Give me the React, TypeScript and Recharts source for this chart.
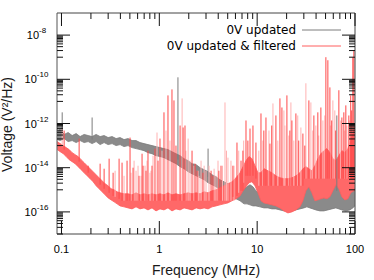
import React from "react";
import { ComposedChart, Area, Line, XAxis, YAxis, ReferenceLine } from "recharts";

const W = 374;
const H = 280;
const PLOT_L = 57;
const PLOT_R = 355;
const PLOT_T = 13;
const PLOT_B = 234;

const SANS = "'Liberation Sans', Arial, sans-serif";
const KEY_FONT = "'DejaVu Sans', Verdana, sans-serif";

const GREY = "#7c7c7c";
const GREY_FILL = "#8a8a8a";
const RED = "#ff5e5e";
const RED_FILL = "#ff6868";
const RED_SPIKE = "#ff4a4a";
const PINK = "#ffb2b2";

// axis ticks
const xMajor = [0.1, 1, 10, 100];
const xMinorMult = [2, 3, 4, 5, 6, 7, 8, 9];
const yMajor = [1e-16, 1e-14, 1e-12, 1e-10, 1e-8];
const yMinorDecade = [1e-17, 1e-15, 1e-13, 1e-11, 1e-9];
const yMinorMult = [1, 2, 3, 4, 5, 6, 7, 8, 9];

// "0V updated" noise band (MHz, V²/Hz)
const greyFreq = [
  0.0904, 0.097, 0.1065, 0.117, 0.1286, 0.1412, 0.155, 0.1705, 0.1873, 0.2057,
  0.226, 0.2483, 0.2728, 0.2997, 0.3292, 0.3616, 0.397, 0.436, 0.479, 0.526,
  0.578, 0.635, 0.698, 0.766, 0.842, 0.925, 1.016, 1.116, 1.226, 1.347,
  1.48, 1.63, 1.79, 1.97, 2.16, 2.38, 2.61, 2.87, 3.15, 3.46,
  3.8, 4.17, 4.58, 5.03, 5.53, 6.08, 6.68, 7.34, 7.87, 8.45,
  9.06, 9.72, 10.68, 11.73, 12.89, 14.16, 15.55, 17.09, 18.77, 20.62,
  22.66, 24.89, 27.34, 30.04, 32.23, 34.58, 37.1, 39.8, 43.8, 48.1,
  52.8, 58.0, 63.7, 68.4, 73.4, 80.6, 88.6, 95.0, 99.6,
];
const greyHigh = [
  4.3e-13, 5.3e-13, 3.2e-13, 3.9e-13, 2.85e-13, 3.5e-13, 2.56e-13, 3.2e-13, 2.85e-13, 2.56e-13,
  3.2e-13, 2.56e-13, 2.85e-13, 2.31e-13, 2.56e-13, 2.08e-13, 2.31e-13, 1.87e-13, 2.08e-13, 1.69e-13,
  1.69e-13, 1.37e-13, 1.23e-13, 1.11e-13, 1.0e-13, 9.0e-14, 8.1e-14, 7.3e-14, 6.6e-14, 5.3e-14,
  4.3e-14, 3.5e-14, 2.56e-14, 2.08e-14, 1.52e-14, 1.37e-14, 1.0e-14, 8.1e-15, 6.6e-15, 4.8e-15,
  3.9e-15, 2.85e-15, 2.31e-15, 1.87e-15, 1.52e-15, 1.23e-15, 1.0e-15, 1.11e-15, 1.37e-15, 1.69e-15,
  1.37e-15, 9.0e-16, 6.6e-16, 5.3e-16, 4.8e-16, 4.3e-16, 4.3e-16, 3.9e-16, 3.9e-16, 3.5e-16,
  3.9e-16, 4.3e-16, 5.3e-16, 9.0e-16, 1.52e-15, 1.23e-15, 7.3e-16, 5.3e-16, 4.8e-16, 5.3e-16,
  7.3e-16, 1.23e-15, 2.31e-15, 1.69e-15, 9.0e-16, 5.3e-16, 6.6e-16, 1.0e-15, 1.23e-15,
];
const greyLow = [
  1.87e-13, 1.69e-13, 2.08e-13, 1.52e-13, 1.69e-13, 1.37e-13, 1.69e-13, 1.37e-13, 1.52e-13, 1.23e-13,
  1.52e-13, 1.11e-13, 1.37e-13, 1.11e-13, 1.23e-13, 1.0e-13, 1.11e-13, 9.0e-14, 1.0e-13, 8.1e-14,
  7.3e-14, 6.6e-14, 5.9e-14, 4.8e-14, 4.3e-14, 3.5e-14, 3.2e-14, 2.85e-14, 2.31e-14, 1.87e-14,
  1.52e-14, 1.11e-14, 9.0e-15, 6.6e-15, 5.3e-15, 4.3e-15, 3.5e-15, 2.85e-15, 2.08e-15, 1.69e-15,
  1.37e-15, 1.0e-15, 8.1e-16, 5.9e-16, 4.8e-16, 3.9e-16, 3.2e-16, 2.31e-16, 2.31e-16, 2.08e-16,
  1.87e-16, 1.87e-16, 1.69e-16, 1.52e-16, 1.52e-16, 1.37e-16, 1.37e-16, 1.23e-16, 1.11e-16, 1.11e-16,
  1.11e-16, 1.23e-16, 1.37e-16, 1.52e-16, 1.69e-16, 1.52e-16, 1.37e-16, 1.23e-16, 1.11e-16, 1.11e-16,
  1.23e-16, 1.37e-16, 1.52e-16, 1.37e-16, 1.23e-16, 1.11e-16, 1.23e-16, 1.52e-16, 1.87e-16,
];
const greySpikeFreq = [0.1017, 0.2057, 1.55, 3.15, 65.2];
const greySpikeTop = [3.2e-12, 1.87e-12, 1.23e-10, 7.3e-14, 2.31e-12];
const greySpikeBase = [2.85e-13, 1.87e-13, 2.31e-14, 3.9e-15, 9.0e-16];

// "0V updated & filtered" noise band
const redFreq = [
  0.0904, 0.097, 0.1043, 0.1117, 0.1198, 0.1286, 0.1379, 0.148, 0.1587, 0.1705,
  0.1829, 0.1963, 0.2106, 0.226, 0.2425, 0.2602, 0.2792, 0.2997, 0.3216, 0.345,
  0.3703, 0.397, 0.436, 0.479, 0.526, 0.578, 0.635, 0.698, 0.766, 0.842,
  0.925, 1.016, 1.116, 1.226, 1.347, 1.48, 1.63, 1.79, 1.97, 2.16,
  2.38, 2.61, 2.87, 3.15, 3.46, 3.8, 4.17, 4.58, 5.03, 5.53,
  6.08, 6.68, 7.17, 7.69, 8.26, 8.85, 9.5, 10.19, 10.94, 11.73,
  12.89, 14.16, 15.55, 17.09, 18.77, 20.62, 22.66, 24.89, 27.34, 29.34,
  31.48, 33.78, 36.25, 38.9, 41.7, 44.8, 48.1, 51.6, 55.4, 59.4,
  63.7, 68.4, 73.4, 78.7, 84.5, 90.4, 97.3, 99.6,
];
const redHigh = [
  1.52e-13, 1.23e-13, 1.0e-13, 8.1e-14, 6.6e-14, 4.8e-14, 3.9e-14, 3.2e-14, 2.31e-14, 1.69e-14,
  1.23e-14, 9.0e-15, 6.6e-15, 4.8e-15, 3.5e-15, 2.56e-15, 1.87e-15, 1.52e-15, 1.11e-15, 1.0e-15,
  8.1e-16, 7.3e-16, 6.6e-16, 6.6e-16, 5.9e-16, 7.3e-16, 5.9e-16, 6.6e-16, 5.9e-16, 6.6e-16,
  5.9e-16, 6.6e-16, 5.9e-16, 7.3e-16, 5.9e-16, 6.6e-16, 5.9e-16, 6.6e-16, 7.3e-16, 6.6e-16,
  7.3e-16, 6.6e-16, 8.1e-16, 7.3e-16, 9.0e-16, 1.0e-15, 1.23e-15, 1.52e-15, 1.87e-15, 2.31e-15,
  3.5e-15, 5.9e-15, 1.11e-14, 2.08e-14, 3.2e-14, 2.56e-14, 1.23e-14, 5.9e-15, 5.9e-15, 9.0e-15,
  7.3e-15, 5.9e-15, 4.3e-15, 3.5e-15, 3.2e-15, 3.2e-15, 3.5e-15, 4.3e-15, 5.9e-15, 9.0e-15,
  1.11e-14, 9.0e-15, 7.3e-15, 1.23e-14, 2.56e-14, 4.3e-14, 5.9e-14, 7.3e-14, 4.8e-14, 2.56e-14,
  2.08e-14, 3.5e-14, 5.9e-14, 4.8e-14, 7.3e-14, 1.69e-13, 4.8e-13, 8.1e-13,
];
const redLow = [
  6.6e-14, 5.3e-14, 4.3e-14, 3.2e-14, 2.31e-14, 1.87e-14, 1.52e-14, 1.11e-14, 8.1e-15, 5.9e-15,
  4.3e-15, 3.2e-15, 2.31e-15, 1.52e-15, 1.11e-15, 8.1e-16, 5.9e-16, 4.3e-16, 3.5e-16, 2.85e-16,
  2.31e-16, 1.87e-16, 1.69e-16, 1.52e-16, 1.37e-16, 1.69e-16, 1.37e-16, 1.52e-16, 1.23e-16, 1.52e-16,
  1.11e-16, 1.37e-16, 1.23e-16, 1.52e-16, 1.11e-16, 1.37e-16, 1.23e-16, 1.52e-16, 1.37e-16, 1.23e-16,
  1.52e-16, 1.37e-16, 1.52e-16, 1.37e-16, 1.69e-16, 1.87e-16, 2.08e-16, 2.31e-16, 2.56e-16, 3.2e-16,
  3.9e-16, 5.3e-16, 9.0e-16, 1.37e-15, 2.08e-15, 2.31e-15, 1.52e-15, 7.3e-16, 3.2e-16, 2.56e-16,
  2.31e-16, 2.08e-16, 1.87e-16, 1.52e-16, 1.11e-16, 9.0e-17, 1.0e-16, 1.23e-16, 1.69e-16, 3.2e-16,
  9.0e-16, 1.37e-15, 7.3e-16, 3.2e-16, 3.5e-16, 3.9e-16, 4.3e-16, 3.9e-16, 4.8e-16, 9.0e-16,
  1.69e-15, 1.11e-15, 4.8e-16, 3.5e-16, 3.9e-16, 7.3e-16, 9.0e-16, 9.0e-16,
];

// strong interference lines in the filtered trace
const redSpikeFreq = [
  0.1065, 0.1515, 0.1873, 0.2483, 0.2728, 0.3068, 0.337, 0.388, 0.416, 0.468,
  0.502, 0.539, 0.62, 0.666, 0.682, 0.731, 0.766, 0.842, 0.903, 0.97,
  1.016, 1.116, 1.226, 1.347, 1.412, 1.48, 1.63, 1.75, 1.83, 2.16,
  2.32, 2.43, 2.79, 3.38, 3.53, 4.06, 4.27, 5.65, 6.22, 6.84,
  7.15, 7.69, 8.04, 8.45, 9.06, 9.72, 10.94, 11.7, 12.3, 13.51,
  14.1, 15.55, 17.09, 17.91, 20.14, 21.6, 22.66, 24.89, 26.6, 29.34,
  30.7, 33.78, 38.0, 41.7, 44.8, 50.4, 52.8, 55.4, 57.8, 63.5,
  68.4, 73.4, 76.9, 80.6, 86.5, 90.4, 92.5, 95.0, 97.3,
];
const redSpikeTop = [
  4.8e-13, 2.08e-13, 1.23e-14, 1.52e-14, 9.0e-15, 2.56e-14, 5.9e-15, 2.56e-14, 1.69e-14, 2.08e-14,
  2.31e-13, 1.0e-14, 4.3e-15, 4.3e-14, 1.23e-14, 7.3e-15, 5.9e-14, 1.23e-14, 7.3e-14, 2.08e-14,
  2.08e-13, 3.2e-12, 1.87e-11, 3.5e-11, 1.11e-11, 1.0e-13, 8.1e-13, 6.6e-13, 8.1e-13, 5.9e-14,
  1.52e-14, 7.3e-15, 5.9e-15, 7.3e-15, 4.3e-15, 7.3e-15, 1.23e-14, 1.23e-14, 1.37e-13, 2.08e-14,
  5.9e-14, 1.37e-12, 1.69e-13, 5.9e-13, 8.1e-13, 1.37e-13, 2.85e-12, 4.8e-13, 1.87e-12, 1.23e-13,
  8.1e-13, 2.31e-12, 1.37e-11, 5.3e-12, 1.87e-11, 4.8e-13, 1.37e-12, 2.85e-12, 1.69e-13, 3.5e-13,
  1.0e-13, 1.11e-11, 2.31e-12, 3.2e-12, 5.3e-12, 1.0e-9, 7.3e-10, 4.3e-11, 1.37e-12, 4.8e-13,
  3.2e-11, 1.87e-12, 3.2e-12, 6.6e-12, 2.31e-12, 1.87e-11, 3.9e-12, 1.0e-9, 2.0e-9,
];
const redSpikeBase = [
  6.6e-14, 1.87e-14, 5.9e-15, 1.69e-15, 1.11e-15, 7.3e-16, 5.3e-16, 3.9e-16, 3.2e-16, 3.2e-16,
  3.2e-16, 3.2e-16, 3.2e-16, 3.2e-16, 3.2e-16, 3.2e-16, 3.2e-16, 3.2e-16, 3.2e-16, 3.2e-16,
  3.2e-16, 3.2e-16, 3.2e-16, 3.2e-16, 3.2e-16, 3.2e-16, 3.2e-16, 3.2e-16, 3.2e-16, 3.2e-16,
  3.2e-16, 3.2e-16, 3.2e-16, 3.2e-16, 3.2e-16, 3.2e-16, 3.2e-16, 4.8e-16, 5.3e-16, 9.0e-16,
  9.0e-16, 4.3e-15, 4.3e-15, 4.3e-15, 4.3e-15, 3.2e-15, 1.52e-15, 1.52e-15, 1.52e-15, 1.52e-15,
  1.52e-15, 1.52e-15, 1.52e-15, 1.52e-15, 1.52e-15, 1.52e-15, 1.52e-15, 1.52e-15, 1.52e-15, 1.52e-15,
  3.2e-15, 3.2e-15, 3.2e-15, 3.2e-15, 3.2e-15, 3.2e-15, 3.2e-15, 3.2e-15, 3.2e-15, 3.2e-15,
  3.2e-15, 3.2e-15, 3.2e-15, 3.2e-15, 3.2e-15, 3.2e-15, 3.2e-15, 3.2e-15, 3.2e-15,
];

// fainter lines in the filtered trace
const paleSpikeFreq = [
  0.1017, 0.3532, 0.436, 0.514, 0.552, 0.578, 0.606, 0.65, 0.714, 0.749,
  0.803, 0.822, 0.862, 0.947, 1.065, 1.17, 1.285, 1.71, 1.87, 1.97,
  2.06, 2.26, 2.49, 2.54, 2.67, 2.87, 3.0, 3.22, 3.63, 3.79,
  3.98, 4.42, 4.69, 4.86, 5.03, 5.4, 5.8, 6.48, 7.28, 10.4,
  11.43, 13.2, 14.5, 16.26, 18.77, 19.2, 21.1, 22.13, 23.7, 26.0,
  27.99, 31.48, 35.41, 37.0, 39.8, 42.6, 47.0, 49.1, 56.5, 59.4,
  62.2, 71.5, 78.5, 82.5, 88.3,
];
const paleSpikeTop = [
  5.9e-13, 7.3e-15, 4.3e-15, 5.9e-15, 2.08e-14, 7.3e-15, 1.23e-14, 4.3e-15, 1.23e-14, 2.08e-14,
  5.9e-15, 7.3e-15, 3.5e-14, 3.9e-13, 5.9e-14, 4.8e-13, 1.69e-13, 1.37e-11, 5.9e-14, 2.08e-13,
  2.08e-14, 1.23e-14, 7.3e-15, 4.3e-15, 2.08e-14, 1.23e-14, 7.3e-15, 1.23e-14, 9.0e-15, 4.3e-15,
  2.08e-14, 1.23e-14, 9.0e-12, 5.9e-14, 2.85e-14, 2.08e-14, 1.23e-14, 5.9e-14, 1.69e-13, 5.9e-14,
  1.69e-13, 4.8e-13, 8.1e-12, 1.69e-13, 3.9e-12, 8.1e-13, 2.85e-13, 9.0e-12, 1.69e-13, 2.31e-12,
  6.6e-13, 6.6e-11, 9.0e-12, 4.8e-13, 8.1e-13, 2.85e-13, 1.37e-12, 2.31e-12, 8.1e-13, 1.11e-11,
  3.9e-12, 1.37e-12, 4.8e-13, 8.1e-13, 1.37e-12,
];
const paleSpikeBase = [
  9.0e-14, 4.8e-16, 3.2e-16, 3.2e-16, 3.2e-16, 3.2e-16, 3.2e-16, 3.2e-16, 3.2e-16, 3.2e-16,
  3.2e-16, 3.2e-16, 3.2e-16, 3.2e-16, 3.2e-16, 3.2e-16, 3.2e-16, 3.2e-16, 3.2e-16, 3.2e-16,
  3.2e-16, 3.2e-16, 3.2e-16, 3.2e-16, 3.2e-16, 3.2e-16, 3.2e-16, 3.2e-16, 3.2e-16, 3.2e-16,
  3.2e-16, 3.2e-16, 3.2e-16, 3.2e-16, 3.2e-16, 3.2e-16, 3.2e-16, 7.3e-16, 2.08e-15, 1.52e-15,
  1.52e-15, 1.52e-15, 1.52e-15, 1.52e-15, 1.52e-15, 1.52e-15, 1.52e-15, 1.52e-15, 1.52e-15, 1.52e-15,
  1.52e-15, 3.2e-15, 3.2e-15, 3.2e-15, 3.2e-15, 3.2e-15, 3.2e-15, 3.2e-15, 3.2e-15, 3.2e-15,
  3.2e-15, 3.2e-15, 3.2e-15, 3.2e-15, 3.2e-15,
];

const xTicks = [...xMajor, ...xMajor.slice(0, 3).flatMap((d) => xMinorMult.map((k) => k * d))];
const yTicks = [...yMajor, ...yMinorDecade.flatMap((d) => yMinorMult.map((k) => k * d))];

const band = (f: number[], lo: number[], hi: number[]) =>
  f.map((x, i) => ({ f: x, v: [lo[i], hi[i]] }));

// each line is base -> top, then a break
const spikes = (f: number[], top: number[], base: number[]) =>
  f.flatMap((x, i) => [
    { f: x, v: base[i] },
    { f: x, v: top[i] },
    { f: x, v: null },
  ]);

const greyBand = band(greyFreq, greyLow, greyHigh);
const redBand = band(redFreq, redLow, redHigh);
const greySpikes = spikes(greySpikeFreq, greySpikeTop, greySpikeBase);
const redSpikes = spikes(redSpikeFreq, redSpikeTop, redSpikeBase);
const paleSpikes = spikes(paleSpikeFreq, paleSpikeTop, paleSpikeBase);

function XTick(props: any) {
  const { x, payload } = props;
  const v = payload.value as number;
  const major = xMajor.includes(v);
  const len = major ? 13 : 6;
  return (
    <g>
      <line x1={x} x2={x} y1={PLOT_B} y2={PLOT_B - len} stroke="#111" />
      <line x1={x} x2={x} y1={PLOT_T} y2={PLOT_T + len} stroke="#111" />
      {major && (
        <text x={x} y={253} textAnchor="middle" fontFamily={SANS} fontSize={11} fill="#000">
          {String(v)}
        </text>
      )}
    </g>
  );
}

function YTick(props: any) {
  const { y, payload } = props;
  const v = payload.value as number;
  const major = yMajor.includes(v);
  const len = major ? 13 : 6;
  const exp = Math.round(Math.log10(v));
  return (
    <g>
      <line x1={PLOT_L} x2={PLOT_L + len} y1={y} y2={y} stroke="#111" />
      <line x1={PLOT_R - len} x2={PLOT_R} y1={y} y2={y} stroke="#111" />
      {major && (
        <text x={36.5} y={y + 4} textAnchor="middle" fontFamily={SANS} fontSize={11} fill="#000">
          10
          <tspan dy={-6} fontSize={8}>
            {String(exp)}
          </tspan>
        </text>
      )}
    </g>
  );
}

export default function App() {
  return (
    <div style={{ position: "absolute", left: 0, top: 0, width: W, height: H, background: "#fff" }}>
      <ComposedChart width={W} height={H} margin={{ top: PLOT_T, right: W - PLOT_R, bottom: 0, left: 0 }}>
        <XAxis
          dataKey="f"
          type="number"
          scale="log"
          domain={[0.09, 100]}
          allowDataOverflow
          ticks={xTicks}
          interval={0}
          tick={XTick}
          tickLine={false}
          axisLine={{ stroke: "#444" }}
          height={H - PLOT_B}
        />
        <YAxis
          type="number"
          scale="log"
          domain={[1e-17, 1e-7]}
          allowDataOverflow
          ticks={yTicks}
          interval={0}
          tick={YTick}
          tickLine={false}
          axisLine={{ stroke: "#555" }}
          width={PLOT_L}
        />
        <Area
          data={greyBand}
          dataKey="v"
          type="linear"
          stroke={GREY}
          strokeWidth={0.8}
          fill={GREY_FILL}
          fillOpacity={1}
          isAnimationActive={false}
          dot={false}
          activeDot={false}
        />
        <Area
          data={redBand}
          dataKey="v"
          type="linear"
          stroke={RED}
          strokeWidth={0.8}
          fill={RED_FILL}
          fillOpacity={1}
          isAnimationActive={false}
          dot={false}
          activeDot={false}
        />
        <Line
          data={greySpikes}
          dataKey="v"
          type="linear"
          stroke={GREY}
          strokeWidth={1}
          dot={false}
          activeDot={false}
          connectNulls={false}
          isAnimationActive={false}
        />
        <Line
          data={paleSpikes}
          dataKey="v"
          type="linear"
          stroke={PINK}
          strokeWidth={1}
          dot={false}
          activeDot={false}
          connectNulls={false}
          isAnimationActive={false}
        />
        <Line
          data={redSpikes}
          dataKey="v"
          type="linear"
          stroke={RED_SPIKE}
          strokeWidth={1}
          dot={false}
          activeDot={false}
          connectNulls={false}
          isAnimationActive={false}
        />
        <ReferenceLine x={100} stroke="#444" ifOverflow="visible" />
        <ReferenceLine y={1e-7} stroke="#444" ifOverflow="visible" />
      </ComposedChart>
      <svg
        width={W}
        height={H}
        style={{ position: "absolute", left: 0, top: 0, pointerEvents: "none" }}
      >
        <text x={296} y={34} textAnchor="end" fontFamily={KEY_FONT} fontSize={12} fill="#000">
          0V updated
        </text>
        <line x1={302} x2={341} y1={30} y2={30} stroke={GREY} />
        <text x={296} y={49.5} textAnchor="end" fontFamily={KEY_FONT} fontSize={12} fill="#000">
          0V updated &amp; filtered
        </text>
        <line x1={302} x2={341} y1={46} y2={46} stroke={RED} />
        <text x={206} y={275} textAnchor="middle" fontFamily={SANS} fontSize={14} fill="#1a1a1a">
          Frequency (MHz)
        </text>
        <text
          transform="translate(12,124.5) rotate(-90)"
          textAnchor="middle"
          fontFamily={SANS}
          fontSize={14}
          fill="#1a1a1a"
        >
          Voltage (V²/Hz)
        </text>
      </svg>
    </div>
  );
}
